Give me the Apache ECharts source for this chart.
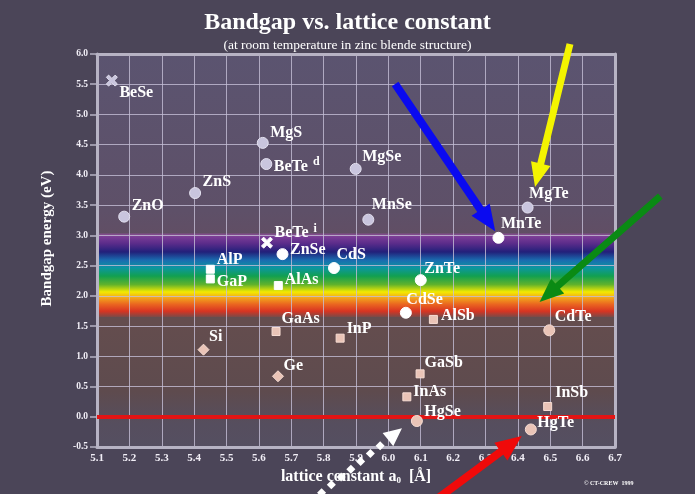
<!DOCTYPE html>
<html><head><meta charset="utf-8">
<script src="https://cdn.jsdelivr.net/npm/echarts@6/dist/echarts.min.js"></script>
<style>html,body{margin:0;padding:0;background:#4b4558;}#c{width:695px;height:494px;}</style>
</head><body><div id="c"></div>
<script>
// ---- data ----
const compounds = ['BeSe','MgS','BeTe^d','ZnS','ZnO','MgSe','MnSe','MgTe','MnTe','BeTe^i','ZnSe','AlP','GaP','AlAs','CdS','GaAs','Si','Ge','InP','ZnTe','CdSe','AlSb','CdTe','GaSb','InAs','HgSe','InSb','HgTe'];
const latticeConstant = [5.146,5.612,5.623,5.403,5.184,5.899,5.938,6.430,6.340,5.625,5.673,5.450,5.450,5.660,5.832,5.653,5.429,5.659,5.851,6.100,6.054,6.139,6.497,6.098,6.057,6.088,6.492,6.440];
const bandgapEnergy = [5.56,4.53,4.18,3.70,3.31,4.10,3.26,3.46,2.96,2.88,2.69,2.44,2.28,2.17,2.46,1.41,1.11,0.67,1.30,2.26,1.72,1.61,1.43,0.71,0.33,-0.07,0.17,-0.21];
const materialClass = ['II-VI*','II-VI','II-VI','II-VI','II-VI','II-VI','II-VI','II-VI','II-VI','II-VI*','II-VI','III-V','III-V','III-V','II-VI','III-V','IV','IV','III-V','II-VI','II-VI','III-V','II-VI','III-V','III-V','II-VI','III-V','II-VI'];
const visibleRange = [1.65, 3.03];      // eV, rainbow band
const xTickRange = [5.1, 6.7, 0.1];
const yTickRange = [-0.5, 6.0, 0.5];
// annotation arrows in data units [a0, Eg]
const arrowBlue = [[6.021, 5.504], [6.330, 3.07]];
const arrowYellow = [[6.561, 6.165], [6.453, 3.80]];
const arrowGreen = [[6.840, 3.650], [6.467, 1.90]];
const arrowRed = [[6.140, -1.40], [6.412, -0.32]];
const arrowWhite = [[5.760, -1.40], [6.042, -0.19]];

// ---- layout / style (not data) ----
const labelNudge = [[8,13],[8,-10],[8,3],[8,-11],[8,-10],[7,-12],[4,-14],[2,-13],[3,-13],[8,-9],[8,-4],[7,-9],[7,3],[7,-5],[3,-13],[6,-12],[6,-12],[6,-10],[7,-9],[4,-11],[1,-12],[8,-3],[6,-13],[5,-10],[7,-4],[8,-9],[8,-13],[7,-6]];
const SERIF = '"Liberation Serif","DejaVu Serif",serif';
const crossPath = 'path://M2,0 L5,3 L8,0 L10,2 L7,5 L10,8 L8,10 L5,7 L2,10 L0,8 L3,5 L0,2 Z';
const symbolOf = {'II-VI':'circle','II-VI*':crossPath,'III-V':'rect','IV':'diamond'};
const sizeOf = {'II-VI':11,'II-VI*':11,'III-V':8,'IV':11};
function colorOf(e){ return e > 3.0 ? '#c9c5de' : (e >= 1.7 ? '#ffffff' : '#eac4b7'); }
function borderOf(e){ return e > 3.0 ? '#e4e1f0' : (e >= 1.7 ? '#ffffff' : '#f7ddd4'); }

const points = compounds.map((n,i)=>{
  const s = sizeOf[materialClass[i]];
  const nd = labelNudge[i];
  return {
    name: n,
    value: [latticeConstant[i], bandgapEnergy[i]],
    symbol: symbolOf[materialClass[i]],
    symbolSize: s,
    itemStyle: {color: colorOf(bandgapEnergy[i]), borderColor: borderOf(bandgapEnergy[i]), borderWidth: 1, opacity: 1},
    label: {position: [s/2 + nd[0], s/2 + nd[1]], align: 'left', verticalAlign: 'middle'}
  };
});

const chart = echarts.init(document.getElementById('c'));
const axisText = {color:'#f2eff7', fontFamily: SERIF, fontWeight:'bold'};
const gridColor = 'rgba(196,190,214,0.8)';
const bg = new echarts.graphic.LinearGradient(0,0,0,1,[
  {offset:0, color:'#5b5470'},
  {offset:0.40, color:'#5e5068'},
  {offset:0.50, color:'#634d62'},
  {offset:0.68, color:'#644d4e'},
  {offset:0.86, color:'#5e4b4e'},
  {offset:0.94, color:'#564e5e'},
  {offset:1, color:'#554f61'}
]);
const rainbow = new echarts.graphic.LinearGradient(0,0,0,1,[
  {offset:0.00, color:'rgba(150,80,160,0.6)'},
  {offset:0.04, color:'#7a3c96'},
  {offset:0.12, color:'#5a2c8a'},
  {offset:0.22, color:'#22207a'},
  {offset:0.32, color:'#1a6cb0'},
  {offset:0.41, color:'#0c96a0'},
  {offset:0.51, color:'#12a050'},
  {offset:0.61, color:'#60b22c'},
  {offset:0.70, color:'#f4ea00'},
  {offset:0.77, color:'#f2a41c'},
  {offset:0.85, color:'#ea6420'},
  {offset:0.93, color:'#d83422'},
  {offset:1.00, color:'#7a4a48'}
]);
const shadow = {textShadowColor:'#120c18', textShadowBlur: 0, textShadowOffsetX: 1.3, textShadowOffsetY: 1.3};

chart.setOption({
  backgroundColor: '#4b4558',
  animation: false,
  title: {
    text: 'Bandgap vs. lattice constant',
    subtext: '(at room temperature in zinc blende structure)',
    left: 'center', top: 6, itemGap: 3,
    textStyle: {color:'#ffffff', fontFamily: SERIF, fontWeight:'bold', fontSize: 24},
    subtextStyle: {color:'#ffffff', fontFamily: SERIF, fontSize: 13.5}
  },
  grid: {left: 97, right: 80, top: 54, bottom: 47, show: true, backgroundColor: bg, borderWidth: 0},
  xAxis: [{
    type:'value', min: xTickRange[0], max: xTickRange[1], interval: xTickRange[2], z: 3,
    axisLine: {show:true, onZero:false, lineStyle:{color:'#b7b3c4', width:3}},
    axisTick: {show:false},
    splitLine: {show:true, lineStyle:{color:gridColor, width:1}},
    axisLabel: Object.assign({fontSize: 11, margin: 6, formatter: v => v.toFixed(1)}, axisText),
    name: 'lattice constant a{sub|0}  [Å]', nameLocation:'middle', nameGap: 18,
    nameTextStyle: {color:'#ffffff', fontFamily: SERIF, fontWeight:'bold', fontSize: 16,
      rich: {sub: {fontSize: 9, fontFamily: SERIF, fontWeight:'bold', color:'#fff', padding:[8,0,0,0]}}}
  },{
    type:'value', position:'top', min: xTickRange[0], max: xTickRange[1], z: 3,
    axisLine: {show:true, onZero:false, lineStyle:{color:'#b7b3c4', width:3}},
    axisTick:{show:false}, axisLabel:{show:false}, splitLine:{show:false}
  }],
  yAxis: [{
    type:'value', min: yTickRange[0], max: yTickRange[1], interval: yTickRange[2], z: 3,
    axisLine: {show:true, onZero:false, lineStyle:{color:'#b7b3c4', width:3}},
    axisTick: {show:true, length: 7, lineStyle:{color:'#b7b3c4', width:1.5}},
    splitLine: {show:true, lineStyle:{color:gridColor, width:1}},
    axisLabel: Object.assign({fontSize: 9.5, margin: 9, formatter: v => v.toFixed(1)}, axisText),
    name: 'Bandgap energy (eV)', nameLocation:'middle', nameGap: 42,
    nameTextStyle: {color:'#ffffff', fontFamily: SERIF, fontWeight:'bold', fontSize: 15, padding:[0,0,0,24]}
  },{
    type:'value', position:'right', min: yTickRange[0], max: yTickRange[1], z: 3,
    axisLine: {show:true, onZero:false, lineStyle:{color:'#b7b3c4', width:3}},
    axisTick:{show:false}, axisLabel:{show:false}, splitLine:{show:false}
  }],
  series: [
    {
      type:'scatter', z: 1, data: [], silent: true,
      markArea: {silent: true, label:{show:false}, itemStyle:{color: rainbow, opacity: 1},
        data: [[{xAxis: xTickRange[0], yAxis: visibleRange[1]}, {xAxis: xTickRange[1], yAxis: visibleRange[0]}]]}
    },
    {
      type:'scatter', z: 5, data: points, itemStyle: {opacity: 1},
      label: Object.assign({show:true, color:'#ffffff', fontFamily: SERIF, fontWeight:'bold', fontSize: 16, opacity: 1,
        formatter: p => {
          const parts = p.name.split('^');
          return parts.length > 1 ? parts[0] + '{sup|' + parts[1] + '}' : parts[0];
        },
        rich: {sup: Object.assign({fontSize: 12, fontFamily: SERIF, fontWeight:'bold', color:'#ffffff', padding:[0,0,9,5]}, shadow)}
      }, shadow)
    },
    {
      type:'scatter', z: 6, data: [], silent: true,
      markLine: {silent:true, symbol:['none','none'], label:{show:false},
        lineStyle:{color:'#e21414', width:4, type:'solid', opacity: 1}, data:[{yAxis: 0}]}
    }
  ]
});

function arrowPoints(p0, p1, w, hw, hl){
  const dx = p1[0]-p0[0], dy = p1[1]-p0[1], L = Math.hypot(dx,dy);
  const ux = dx/L, uy = dy/L, nx = -uy, ny = ux;
  const bx = p1[0]-ux*hl, by = p1[1]-uy*hl;
  return [[p0[0]+nx*w/2, p0[1]+ny*w/2],[bx+nx*w/2, by+ny*w/2],[bx+nx*hw/2, by+ny*hw/2],p1,
          [bx-nx*hw/2, by-ny*hw/2],[bx-nx*w/2, by-ny*w/2],[p0[0]-nx*w/2, p0[1]-ny*w/2]];
}
const px = d => chart.convertToPixel({xAxisIndex:0, yAxisIndex:0}, d);
const graphics = [];
[[arrowBlue,'#0a0af0',8,22,26],[arrowYellow,'#f4f400',7,20,24],[arrowGreen,'#0a8a14',7,20,24],[arrowRed,'#f00a0a',8,22,26]].forEach(a=>{
  graphics.push({type:'polygon', z:100, silent:true, shape:{points: arrowPoints(px(a[0][0]), px(a[0][1]), a[2], a[3], a[4])}, style:{fill:a[1]}});
});
// white dotted arrow
(function(){
  const p0 = px(arrowWhite[0]), p1 = px(arrowWhite[1]);
  const dx = p1[0]-p0[0], dy = p1[1]-p0[1], L = Math.hypot(dx,dy), ux = dx/L, uy = dy/L;
  graphics.push({type:'polygon', z:100, silent:true, shape:{points: arrowPoints([p1[0]-ux*20, p1[1]-uy*20], p1, 0, 17, 18)}, style:{fill:'#ffffff'}});
  for (let d = 28; d < L; d += 12.5) {
    graphics.push({type:'rect', z:100, silent:true, x: p1[0]-ux*d, y: p1[1]-uy*d, rotation: Math.PI/4,
      shape:{x:-3.2, y:-3.2, width:6.4, height:6.4}, style:{fill:'#ffffff'}});
  }
})();
graphics.push({type:'text', z:100, silent:true, x: 584, y: 483, style:{text:'© CT-CREW  1999', fill:'#ffffff', font:'bold 6px ' + SERIF, verticalAlign:'middle'}});
chart.setOption({graphic: graphics});
</script>
</body></html>
